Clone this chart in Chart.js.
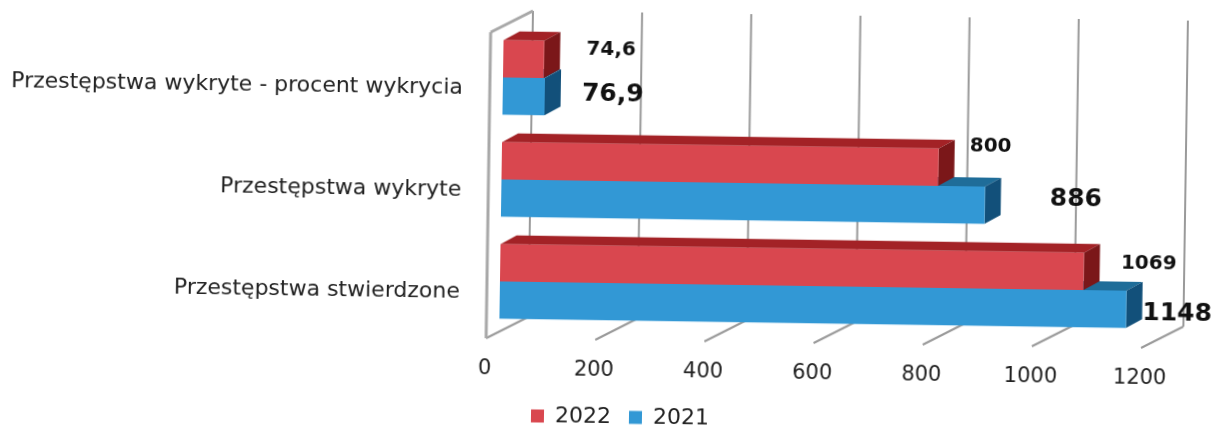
<!DOCTYPE html>
<html>
<head>
<meta charset="utf-8">
<title>Przestępstwa</title>
<script src="https://cdn.jsdelivr.net/npm/chart.js@4/dist/chart.umd.min.js"></script>
<style>
  html, body { margin: 0; padding: 0; background: #fff; overflow: hidden; }
  #wrap { width: 1214px; height: 425px; transform: rotate(0.85deg); }
</style>
</head>
<body>
<div id="wrap"><canvas id="chart1" width="1214" height="425"></canvas></div>
<script>
const categories = ['Przestępstwa wykryte - procent wykrycia', 'Przestępstwa wykryte', 'Przestępstwa stwierdzone'];
const values2022 = [74.6, 800, 1069];
const values2021 = [76.9, 886, 1148];
const labels2022 = ['74,6', '800', '1069'];
const labels2021 = ['76,9', '886', '1148'];

// hand placed value labels in the original, [dx from bar end, dy from bar middle]
const shift2022 = [[67, -11], [52, -22], [65, -9]];
const shift2021 = [[68, -3], [91, -7], [51, 4]];

const wall = { front: -13, back: 29, floor: 340, floorBack: 318, top: 12, topFront: 34 };
const depth = { x: 16, y: 9 };
const faces = [
  { top: '#a32226', side: '#7b1719' },
  { top: '#1f6d99', side: '#12507a' },
];

function line(ctx, x1, y1, x2, y2) {
  ctx.beginPath();
  ctx.moveTo(x1, y1);
  ctx.lineTo(x2, y2);
  ctx.stroke();
}

function poly(ctx, color, pts) {
  ctx.fillStyle = color;
  ctx.beginPath();
  pts.forEach((p, i) => i ? ctx.lineTo(p[0], p[1]) : ctx.moveTo(p[0], p[1]));
  ctx.closePath();
  ctx.fill();
}

const box3d = {
  id: 'box3d',
  afterLayout(chart) {
    // legend sits lower and right of the middle
    chart.legend.left += 45;
    chart.legend.right += 45;
    chart.legend.top += 13;
    chart.legend.bottom += 13;
    // tick labels are clipped to the scale box otherwise
    chart.scales.x.bottom += 20;
    chart.scales.x.height += 20;
  },
  beforeDatasetsDraw(chart) {
    const ctx = chart.ctx;
    const x = chart.scales.x;
    ctx.save();
    ctx.strokeStyle = '#9a9a9a';
    ctx.lineWidth = 2;
    x.ticks.forEach(t => {
      const px = x.getPixelForValue(t.value);
      line(ctx, px + wall.back, wall.top, px + wall.back, wall.floorBack);
      line(ctx, px + wall.front, wall.floor, px + wall.back, wall.floorBack);
    });
    const zero = x.getPixelForValue(0);
    ctx.strokeStyle = '#a8a8a8';
    ctx.lineWidth = 3;
    line(ctx, zero + wall.front, wall.floor, zero + wall.front, wall.topFront);
    line(ctx, zero + wall.front, wall.topFront, zero + wall.back, wall.top);

    [1, 0].forEach(d => {
      chart.getDatasetMeta(d).data.forEach(bar => {
        const p = bar.getProps(['x', 'y', 'base', 'height']);
        const t = p.y - p.height / 2, b = p.y + p.height / 2;
        poly(ctx, faces[d].top, [[p.base, t], [p.base + depth.x, t - depth.y], [p.x + depth.x, t - depth.y], [p.x, t]]);
        poly(ctx, faces[d].side, [[p.x, t], [p.x + depth.x, t - depth.y], [p.x + depth.x, b - depth.y], [p.x, b]]);
      });
    });
    ctx.restore();
  },
  afterDatasetsDraw(chart) {
    const ctx = chart.ctx;
    ctx.save();
    ctx.fillStyle = '#111';
    ctx.textAlign = 'center';
    ctx.textBaseline = 'middle';
    [[labels2022, shift2022, 20], [labels2021, shift2021, 25]].forEach((set, d) => {
      chart.getDatasetMeta(d).data.forEach((bar, i) => {
        ctx.font = 'bold ' + set[2] + 'px "DejaVu Sans"';
        ctx.fillText(set[0][i], bar.x + set[1][i][0], bar.y + set[1][i][1]);
      });
    });
    ctx.restore();
  },
};

new Chart(document.getElementById('chart1'), {
  type: 'bar',
  data: {
    labels: categories,
    datasets: [
      { label: '2022', data: values2022, backgroundColor: '#d9474f', categoryPercentage: 0.73, barPercentage: 1 },
      { label: '2021', data: values2021, backgroundColor: '#3298d5', categoryPercentage: 0.73, barPercentage: 1 },
    ],
  },
  options: {
    indexAxis: 'y',
    responsive: false,
    animation: false,
    layout: { padding: { top: 28, right: 58, bottom: 0, left: 0 } },
    scales: {
      x: {
        min: 0,
        max: 1200,
        grid: { display: false },
        border: { display: false },
        afterFit(scale) {
          scale.height = 41;
          scale.paddingLeft = 0;
          scale.paddingRight = 0;
        },
        ticks: {
          stepSize: 200,
          padding: 16,
          labelOffset: -14,
          maxRotation: 0,
          autoSkip: false,
          color: '#222',
          font: { family: '"DejaVu Sans"', size: 21 },
          callback: v => String(v),
        },
      },
      y: {
        grid: { display: false },
        border: { display: false },
        afterFit(scale) {
          scale.width = 501;
          scale.paddingTop = 0;
          scale.paddingBottom = 0;
        },
        ticks: {
          padding: 32,
          labelOffset: 11,
          color: '#222',
          font: { family: '"DejaVu Sans"', size: 22 },
        },
      },
    },
    plugins: {
      legend: {
        position: 'bottom',
        labels: {
          boxWidth: 13,
          boxHeight: 13,
          padding: 18,
          color: '#222',
          font: { family: '"DejaVu Sans"', size: 22 },
        },
      },
      tooltip: { enabled: false },
    },
  },
  plugins: [box3d],
});
</script>
</body>
</html>
